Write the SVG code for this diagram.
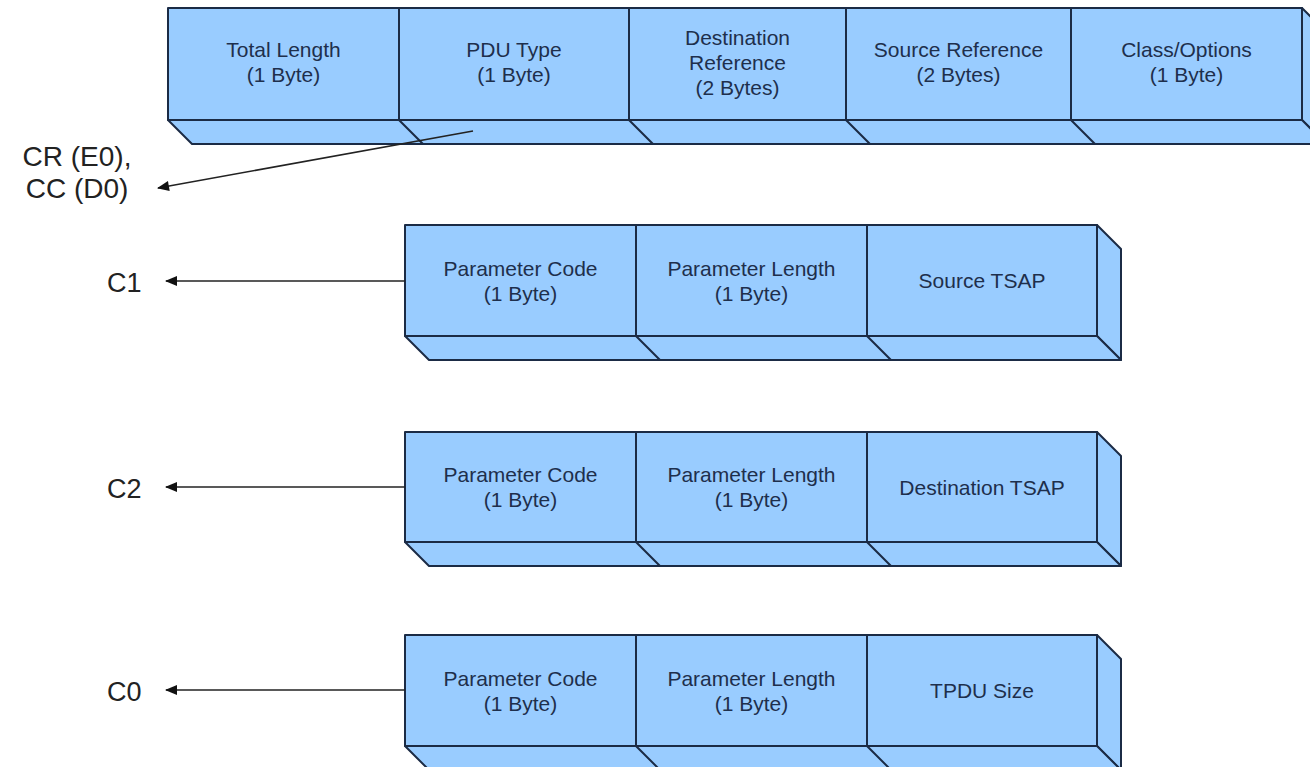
<svg xmlns="http://www.w3.org/2000/svg" width="1310" height="767" viewBox="0 0 1310 767">
  <defs>
    <style>
      .face { fill: #99ccff; stroke: #1b2b45; stroke-width: 2; stroke-linejoin: round; }
      .edge { fill: none; stroke: #1b2b45; stroke-width: 2; }
      .cell { font-family: "Liberation Sans", Arial, sans-serif; font-size: 21px; fill: #1e2f4c; text-anchor: middle; }
      .lbl { font-family: "Liberation Sans", Arial, sans-serif; fill: #222222; }
      .conn { fill: none; stroke: #222222; stroke-width: 1.6; }
    </style>
    <marker id="arrow" viewBox="0 0 12 10" refX="11" refY="5" markerWidth="13" markerHeight="10" markerUnits="userSpaceOnUse" orient="auto">
      <path d="M0,0 L12,5 L0,10 Z" fill="#111111"/>
    </marker>
  </defs>
  <rect width="1310" height="767" fill="#ffffff"/>

  <!-- Header row: 3D strip, front face 168..1302, y 8..120, depth 24 -->
  <g id="header">
    <polygon class="face" points="1302,8 1326,32 1326,144 1302,120"/>
    <polygon class="face" points="168,120 1302,120 1326,144 192,144"/>
    <rect class="face" x="168" y="8" width="1134" height="112"/>
    <path class="edge" d="M399,8 V120 L423,144 M629,8 V120 L653,144 M846,8 V120 L870,144 M1071,8 V120 L1095,144"/>
    <g id="total-length">
      <text class="cell" x="283.5" y="57">Total Length</text>
      <text class="cell" x="283.5" y="82">(1 Byte)</text>
    </g>
    <g id="pdu-type">
      <text class="cell" x="514" y="57">PDU Type</text>
      <text class="cell" x="514" y="82">(1 Byte)</text>
    </g>
    <g id="destination-reference">
      <text class="cell" x="737.5" y="44.5">Destination</text>
      <text class="cell" x="737.5" y="69.5">Reference</text>
      <text class="cell" x="737.5" y="94.5">(2 Bytes)</text>
    </g>
    <g id="source-reference">
      <text class="cell" x="958.5" y="57">Source Reference</text>
      <text class="cell" x="958.5" y="82">(2 Bytes)</text>
    </g>
    <g id="class-options">
      <text class="cell" x="1186.5" y="57">Class/Options</text>
      <text class="cell" x="1186.5" y="82">(1 Byte)</text>
    </g>
  </g>

  <!-- Parameter C1 -->
  <g id="param-c1">
    <polygon class="face" points="1097,225 1121,249 1121,360 1097,336"/>
    <polygon class="face" points="405,336 1097,336 1121,360 429,360"/>
    <rect class="face" x="405" y="225" width="692" height="111"/>
    <path class="edge" d="M636,225 V336 L660,360 M867,225 V336 L891,360"/>
    <text class="cell" x="520.5" y="275.5">Parameter Code</text>
    <text class="cell" x="520.5" y="300.5">(1 Byte)</text>
    <text class="cell" x="751.5" y="275.5">Parameter Length</text>
    <text class="cell" x="751.5" y="300.5">(1 Byte)</text>
    <text class="cell" x="982" y="288">Source TSAP</text>
  </g>

  <!-- Parameter C2 -->
  <g id="param-c2">
    <polygon class="face" points="1097,432 1121,456 1121,566 1097,542"/>
    <polygon class="face" points="405,542 1097,542 1121,566 429,566"/>
    <rect class="face" x="405" y="432" width="692" height="110"/>
    <path class="edge" d="M636,432 V542 L660,566 M867,432 V542 L891,566"/>
    <text class="cell" x="520.5" y="482">Parameter Code</text>
    <text class="cell" x="520.5" y="507">(1 Byte)</text>
    <text class="cell" x="751.5" y="482">Parameter Length</text>
    <text class="cell" x="751.5" y="507">(1 Byte)</text>
    <text class="cell" x="982" y="494.5">Destination TSAP</text>
  </g>

  <!-- Parameter C0 -->
  <g id="param-c0">
    <polygon class="face" points="1097,635 1121,659 1121,770 1097,746"/>
    <polygon class="face" points="405,746 1097,746 1121,770 429,770"/>
    <rect class="face" x="405" y="635" width="692" height="111"/>
    <path class="edge" d="M636,635 V746 L660,770 M867,635 V746 L891,770"/>
    <text class="cell" x="520.5" y="685.5">Parameter Code</text>
    <text class="cell" x="520.5" y="710.5">(1 Byte)</text>
    <text class="cell" x="751.5" y="685.5">Parameter Length</text>
    <text class="cell" x="751.5" y="710.5">(1 Byte)</text>
    <text class="cell" x="982" y="698">TPDU Size</text>
  </g>

  <!-- Code labels -->
  <g id="label-cr-cc">
    <text class="lbl" x="77" y="166" font-size="28" text-anchor="middle">CR (E0),</text>
    <text class="lbl" x="77" y="198" font-size="28" text-anchor="middle">CC (D0)</text>
  </g>
  <g id="label-c1"><text class="lbl" x="107" y="292" font-size="27">C1</text></g>
  <g id="label-c2"><text class="lbl" x="107" y="498" font-size="27">C2</text></g>
  <g id="label-c0"><text class="lbl" x="107" y="701" font-size="27">C0</text></g>

  <!-- Connectors -->
  <g id="connectors">
    <line class="conn" x1="473" y1="131" x2="158" y2="188" marker-end="url(#arrow)"/>
    <line class="conn" x1="405" y1="281" x2="166" y2="281" marker-end="url(#arrow)"/>
    <line class="conn" x1="405" y1="487" x2="166" y2="487" marker-end="url(#arrow)"/>
    <line class="conn" x1="405" y1="690" x2="166" y2="690" marker-end="url(#arrow)"/>
  </g>
</svg>
